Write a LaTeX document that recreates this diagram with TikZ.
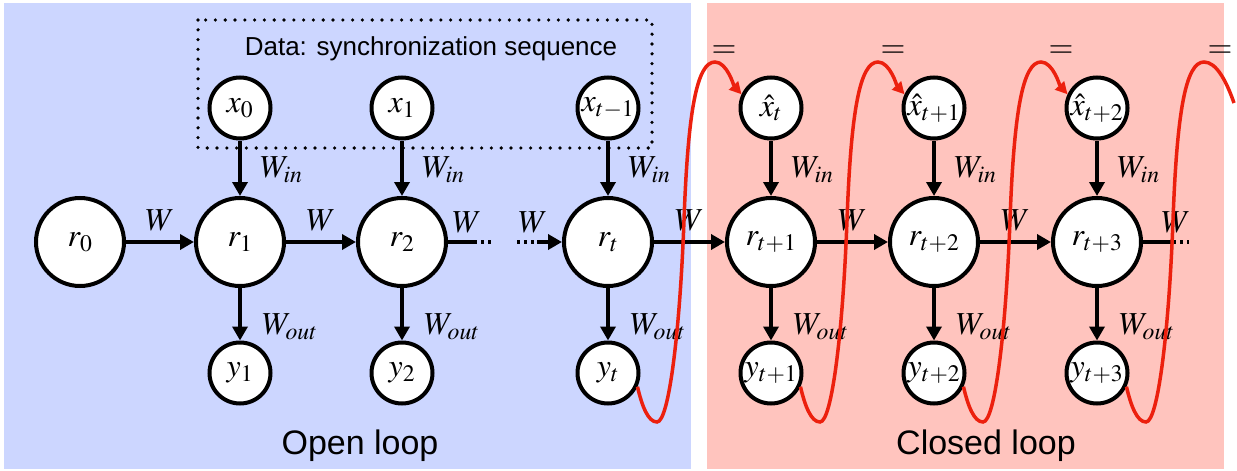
\documentclass[tikz,border=0pt]{standalone}
\usepackage{mathptmx}
\usepackage{fontspec}
\setsansfont{Liberation Sans}
\usetikzlibrary{arrows.meta,calc}

\definecolor{openbg}{RGB}{204,214,255}
\definecolor{closedbg}{RGB}{255,196,190}
\definecolor{feedback}{RGB}{236,32,14}

\newcommand\symsize{\fontsize{32}{38}\selectfont}

\begin{document}
\begin{tikzpicture}[x=1pt,y=-1pt,
  state/.style={circle,draw,line width=4pt,fill=white,inner sep=0pt,
                minimum size=88pt,font=\symsize},
  io/.style={state,minimum size=61pt},
  link/.style={line width=4pt,-{Triangle[length=14pt,width=15pt]}},
  plain/.style={line width=4pt},
  dots/.style={line width=4pt,dash pattern=on 3pt off 4pt},
  wlab/.style={font=\symsize,inner sep=0pt},
  caption/.style={font=\sffamily\fontsize{34}{40}\selectfont,anchor=base},
  feed/.style={feedback,line width=3.5pt},
  feedtip/.style={feed,-{Triangle[length=12pt,width=12pt]}}
]
\useasboundingbox (0,0) rectangle (1237,471);

% open-loop and closed-loop panels
\fill[openbg] (4,3) rectangle (691,469);
\fill[closedbg] (707,3) rectangle (1224,469);

% training data frame
\draw[line width=3.6pt,dash pattern=on 0pt off 9.8pt,line cap=round]
  (198,20) rectangle (652,148);
\node[font=\sffamily\fontsize{26}{30}\selectfont,anchor=base] (datalabel)
  at (431,55) {Data: synchronization sequence};

% reservoir states
\node[state] (r0)  at (80,242)   {$r_0$};
\node[state] (r1)  at (240,242)  {$r_1$};
\node[state] (r2)  at (402,242)  {$r_2$};
\node[state] (rt)  at (608,242)  {$r_t$};
\node[state] (rt1) at (771,242)  {$r_{t+1}$};
\node[state] (rt2) at (934,242)  {$r_{t+2}$};
\node[state] (rt3) at (1097,242) {$r_{t+3}$};

% inputs
\node[io] (x0)  at (240,108)  {$x_0$};
\node[io] (x1)  at (402,108)  {$x_1$};
\node[io] (xt)  at (608,108)  {$x_{t-1}$};
\node[io] (xh0) at (771,108)  {$\hat{x}_t$};
\node[io] (xh1) at (934,108)  {$\hat{x}_{t+1}$};
\node[io] (xh2) at (1097,108) {$\hat{x}_{t+2}$};

% outputs
\node[io] (y1)  at (240,373)  {$y_1$};
\node[io] (y2)  at (402,373)  {$y_2$};
\node[io] (yt)  at (608,373)  {$y_t$};
\node[io] (yt1) at (771,373)  {$y_{t+1}$};
\node[io] (yt2) at (934,373)  {$y_{t+2}$};
\node[io] (yt3) at (1097,373) {$y_{t+3}$};

% input weights
\foreach \a/\b in {x0/r1,x1/r2,xt/rt,xh0/rt1,xh1/rt2,xh2/rt3}{
  \draw[link] (\a) -- (\b);
  \node[wlab,anchor=north west] (win-\a) at ($(\a.south)+(20,16)$) {$W_{in}$};
}

% output weights
\foreach \a/\b in {r1/y1,r2/y2,rt/yt,rt1/yt1,rt2/yt2,rt3/yt3}{
  \draw[link] (\a) -- (\b);
  \node[wlab,anchor=north west] (wout-\a) at ($(\a.south)+(22,26)$) {$W_{out}$};
}

% recurrent weights
\foreach \a/\b in {r0/r1,r1/r2,rt/rt1,rt1/rt2,rt2/rt3}{
  \draw[link] (\a) -- (\b) node[wlab,midway,above=9pt] (w-\a) {$W$};
}

% elided steps between r_2 and r_t
\coordinate (r2out) at (474,242);
\coordinate (r2end) at (493,242);
\draw[plain] (r2) -- (r2out);
\draw[dots] (r2out) -- (r2end);
\node[wlab,anchor=south] (w-r2) at (467,233) {$W$};

\coordinate (rtin) at (517,242);
\coordinate (rtjoin) at (537,242);
\draw[dots] (rtin) -- (rtjoin);
\draw[link] (rtjoin) -- (rt);
\node[wlab,anchor=south] (w-in-rt) at (533,233) {$W$};

\coordinate (rt3out) at (1173,242);
\coordinate (rt3end) at (1189,242);
\draw[plain] (rt3) -- (rt3out);
\draw[dots] (rt3out) -- (rt3end);
\node[wlab,anchor=south] (w-rt3) at (1176,233) {$W$};

% output fed back as the next input
\foreach \y/\x in {yt/xh0,yt1/xh1,yt2/xh2}{
  \draw[feedtip] (\y.-25)
    .. controls ($(\y)+(34,33)$) and ($(\y)+(40,49)$) .. ($(\y)+(49,49)$)
    .. controls ($(\y)+(61,49)$) and ($(\y)+(72,-43)$) .. ($(\y)+(76,-153)$)
    .. controls ($(\y)+(80,-263)$) and ($(\y)+(89,-311)$) .. ($(\y)+(107,-311)$)
    .. controls ($(\y)+(119,-311)$) and ($(\x)+(-37,-22)$) .. (\x.155);
}
\coordinate (tail) at (1234,103);
\draw[feed] (yt3.-25)
    .. controls ($(yt3)+(34,33)$) and ($(yt3)+(40,49)$) .. ($(yt3)+(49,49)$)
    .. controls ($(yt3)+(61,49)$) and ($(yt3)+(72,-43)$) .. ($(yt3)+(76,-153)$)
    .. controls ($(yt3)+(80,-263)$) and ($(yt3)+(89,-311)$) .. ($(yt3)+(107,-311)$)
    .. controls ($(yt3)+(119,-311)$) and (1226,80) .. (tail);

\node[wlab] (eq0) at (724,52)  {$=$};
\node[wlab] (eq1) at (893,52)  {$=$};
\node[wlab] (eq2) at (1061,52) {$=$};
\node[wlab] (eq3) at (1220,52) {$=$};

% panel captions
\node[caption] (openlab)   at (360,454) {Open loop};
\node[caption] (closedlab) at (986,454) {Closed loop};
\end{tikzpicture}
\end{document}
